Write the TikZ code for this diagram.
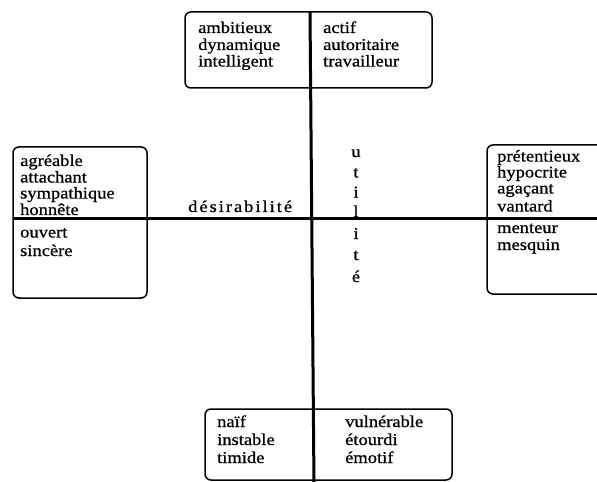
\documentclass[tikz,border=0pt]{standalone}
\usepackage{fontspec}
\setmainfont[FakeStretch=1.12,FakeBold=0.8]{Liberation Serif}
\begin{document}
\begin{tikzpicture}[x=1bp,y=-1bp,
  word/.style={anchor=base west, inner sep=0pt, font=\fontsize{16.5bp}{16.5bp}\selectfont},
  letter/.style={anchor=base, inner sep=0pt, font=\fontsize{16.5bp}{16.5bp}\selectfont},
  card/.style={draw, line width=1.5bp, rounded corners=6bp},
  axis/.style={line width=3bp}]
\useasboundingbox (0,0) rectangle (597,482);
\clip (0,0) rectangle (597,482);
% boxes
\draw[card] (185,12) rectangle (432,88);
\draw[card] (13,147) rectangle (147,298);
\draw[card] (487,145) rectangle (620,294);
\draw[card] (205,409) rectangle (452,480);
% axes
\coordinate (vtop) at (310,12);
\coordinate (vbot) at (314,486);
\coordinate (hleft) at (13,219);
\coordinate (hright) at (600,219);
\draw[axis] (vtop) -- (vbot);
\draw[axis] (hleft) -- (hright);
% top box
\node[word] (t1) at (198,33) {ambitieux};
\node[word] (t2) at (198,50) {dynamique};
\node[word] (t3) at (198,66.5) {intelligent};
\node[word] (t4) at (323,33) {actif};
\node[word] (t5) at (323,50) {autoritaire};
\node[word] (t6) at (323,66.5) {travailleur};
% left box
\node[word] (l1) at (20,166) {agréable};
\node[word] (l2) at (20,182.5) {attachant};
\node[word] (l3) at (20,198.5) {sympathique};
\node[word] (l4) at (20,215) {honnête};
\node[word] (l5) at (20,237.5) {ouvert};
\node[word] (l6) at (20,256) {sincère};
% right box
\node[word] (r1) at (497,161.5) {prétentieux};
\node[word] (r2) at (497,177.5) {hypocrite};
\node[word] (r3) at (497,193.5) {agaçant};
\node[word] (r4) at (497,211.5) {vantard};
\node[word] (r5) at (497,233) {menteur};
\node[word] (r6) at (497,250) {mesquin};
% bottom box
\node[word] (b1) at (217,427) {naïf};
\node[word] (b2) at (217,445) {instable};
\node[word] (b3) at (217,463) {timide};
\node[word] (b4) at (345,427) {vulnérable};
\node[word] (b5) at (345,445) {étourdi};
\node[word] (b6) at (345,463) {émotif};
% axis labels
\node[word, font=\fontsize{16.5bp}{16.5bp}\selectfont\addfontfeature{LetterSpace=12}] (desir) at (188,212) {désirabilité};
\node[letter] (u1) at (356,157) {u};
\node[letter] (u2) at (356,177.5) {t};
\node[letter] (u3) at (356,197.5) {i};
\node[letter] (u4) at (356,217) {l};
\node[letter] (u5) at (356,239) {i};
\node[letter] (u6) at (356,260) {t};
\node[letter] (u7) at (356,282) {é};
\end{tikzpicture}
\end{document}
